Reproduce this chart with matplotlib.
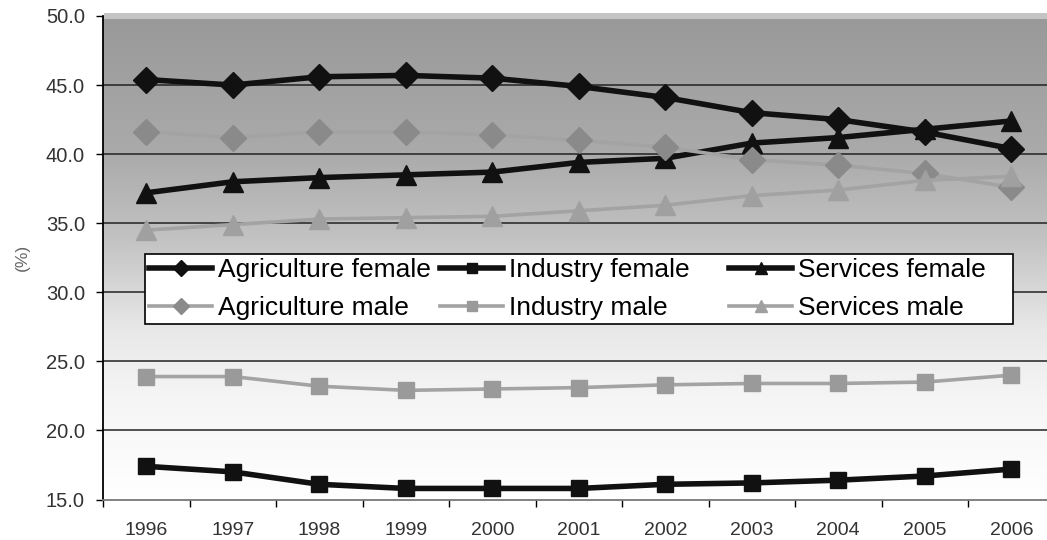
import numpy as np
import matplotlib
matplotlib.use('Agg')
import matplotlib.pyplot as plt
from matplotlib.colors import LinearSegmentedColormap
from matplotlib.patches import Rectangle

plt.rcParams['font.family'] = ['Liberation Sans', 'DejaVu Sans']

# Data (%)
years = ['1996', '1997', '1998', '1999', '2000', '2001', '2002', '2003', '2004', '2005', '2006']
agri_female = [45.4, 45.0, 45.6, 45.7, 45.5, 44.9, 44.1, 43.0, 42.5, 41.6, 40.4]
ind_female = [17.4, 17.0, 16.1, 15.8, 15.8, 15.8, 16.1, 16.2, 16.4, 16.7, 17.2]
serv_female = [37.2, 38.0, 38.3, 38.5, 38.7, 39.4, 39.7, 40.8, 41.2, 41.8, 42.4]
agri_male = [41.6, 41.2, 41.6, 41.6, 41.4, 41.0, 40.5, 39.6, 39.2, 38.6, 37.6]
ind_male = [23.9, 23.9, 23.2, 22.9, 23.0, 23.1, 23.3, 23.4, 23.4, 23.5, 24.0]
serv_male = [34.5, 34.9, 35.3, 35.4, 35.5, 35.9, 36.3, 37.0, 37.4, 38.1, 38.4]

x = np.arange(len(years))

fig = plt.figure(figsize=(10.47, 5.4), dpi=100)
ax = fig.add_axes([0.0984, 0.075, 0.9088, 0.8954])

ax.set_xlim(-0.5, len(years) - 0.5)
ax.set_ylim(15, 50)

# background gradient, white at the bottom to gray at the top
bg_cmap = LinearSegmentedColormap.from_list('bg', [
    (0.0, '#ffffff'), (0.21, '#f5f5f5'), (0.35, '#e8e8e8'),
    (0.54, '#c2c2c2'), (0.72, '#aaaaaa'), (1.0, '#999999')])
grad = np.linspace(0, 1, 256).reshape(-1, 1)
ax.imshow(grad, extent=[-0.5, len(years) - 0.5, 15, 50], origin='lower',
          cmap=bg_cmap, vmin=0, vmax=1, aspect='auto', zorder=0)

# light strip along the top edge of the plot area
fig.patches.append(Rectangle((104 / 1047, 1 - 19 / 540), 1, 6 / 540, transform=fig.transFigure,
                             facecolor='#c4c4c4', edgecolor='none', zorder=1))

for yv in [20, 25, 30, 35, 40, 45]:
    ax.axhline(yv, color='#222222', lw=1.1, zorder=1)

female_c = '#111111'
male_line = '#a3a3a3'

h1, = ax.plot(x, agri_female, color=female_c, lw=4, marker='D', ms=13, mfc=female_c, mec=female_c, zorder=3, label='Agriculture female')
h2, = ax.plot(x, ind_female, color=female_c, lw=4, marker='s', ms=12, mfc=female_c, mec=female_c, zorder=3, label='Industry female')
h3, = ax.plot(x, serv_female, color=female_c, lw=4, marker='^', ms=14.5, mfc=female_c, mec=female_c, zorder=3, label='Services female')
h4, = ax.plot(x, agri_male, color=male_line, lw=2.6, marker='D', ms=13, mfc='#8a8a8a', mec='#8a8a8a', zorder=4, label='Agriculture male')
h5, = ax.plot(x, ind_male, color=male_line, lw=2.6, marker='s', ms=12, mfc='#9a9a9a', mec='#9a9a9a', zorder=4, label='Industry male')
h6, = ax.plot(x, serv_male, color=male_line, lw=2.6, marker='^', ms=14.5, mfc='#a0a0a0', mec='#a0a0a0', zorder=4, label='Services male')

# axes styling
ax.spines['top'].set_visible(False)
ax.spines['right'].set_visible(False)
ax.spines['left'].set_color('black')
ax.spines['left'].set_linewidth(1.3)
ax.spines['bottom'].set_color('#777777')
ax.spines['bottom'].set_linewidth(1.3)

yticks = [15, 20, 25, 30, 35, 40, 45, 50]
ax.set_yticks(yticks)
ax.set_yticklabels([f'{v:.1f}' for v in yticks])
ax.tick_params(axis='y', direction='out', length=5, width=1, colors='black',
               labelcolor='#333333', labelsize=14.5, pad=8)

ax.set_xticks(np.arange(len(years) + 1) - 0.5)
ax.set_xticklabels([])
ax.set_xticks(x, minor=True)
ax.set_xticklabels(years, minor=True)
ax.tick_params(axis='x', which='major', direction='out', length=5, width=1, colors='black')
ax.tick_params(axis='x', which='minor', length=0, labelcolor='#333333', labelsize=14, pad=16)

fig.text(0.021, 1 - 257 / 540, '(%)', rotation=90, ha='center', va='center', fontsize=12.5, color='#666666')

# legend: three equal-width columns in one white box
fig.patches.append(Rectangle((145 / 1047, 1 - 324 / 540), 868 / 1047, 70 / 540, transform=fig.transFigure,
                             facecolor='white', edgecolor='black', lw=1.2, zorder=4))
columns = [([h1, h4], ['Agriculture female', 'Agriculture male'], 145),
           ([h2, h5], ['Industry female', 'Industry male'], 436),
           ([h3, h6], ['Services female', 'Services male'], 725)]
for handles, labels, xpix in columns:
    leg = fig.legend(handles, labels, loc='upper left',
                     bbox_to_anchor=(xpix / 1047, 1 - 254 / 540),
                     borderaxespad=0, fontsize=19, handlelength=2.4, handletextpad=0.2,
                     labelspacing=0.55, borderpad=0.15, markerscale=0.6, frameon=False)
    leg.set_zorder(5)

fig.savefig('out.png', dpi=100)
